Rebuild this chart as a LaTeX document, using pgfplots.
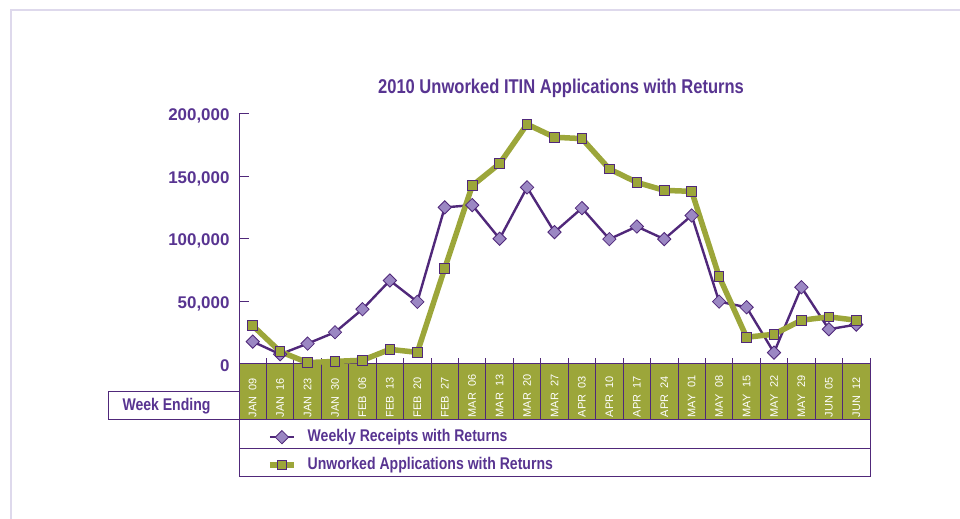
\documentclass[border=0pt]{standalone}
\usepackage{fontspec}
\setmainfont{Liberation Sans}
\newfontfamily\cond[FakeStretch=0.83]{Liberation Sans}
\usepackage{pgfplots}
\pgfplotsset{compat=1.18}

\definecolor{ipurple}{RGB}{80,40,122}
\definecolor{tpurple}{RGB}{88,52,145}
\definecolor{lav}{RGB}{155,135,195}
\definecolor{olivegreen}{RGB}{156,166,58}
\definecolor{framelav}{RGB}{222,217,236}

\newcommand{\wk}[2]{#1\hspace{6.5bp}#2}

\begin{document}
\begin{tikzpicture}[x=1bp,y=1bp]
\path[use as bounding box] (0,0) rectangle (960,519);
\draw[framelav, line width=1.5bp] (11,0) -- (11,509) -- (960,509);

% week band and boxes below the axis
\fill[olivegreen] (239,99) rectangle (870,155);
\foreach \i in {0,...,23} {
  \draw[ipurple, line width=0.9bp] ({239+\i*631/23},99) -- ({239+\i*631/23},161);
}
\draw[ipurple, line width=1bp] (108,99) rectangle (239,127);
\draw[ipurple, line width=1bp] (239,42) rectangle (870,99);
\draw[ipurple, line width=1bp] (239,70) -- (870,70);
\node[text=tpurple, font=\cond\bfseries\fontsize{17}{17}\selectfont] at (166.5,113) {Week Ending};

\node[text=tpurple, anchor=base, font=\cond\bfseries\fontsize{20}{20}\selectfont] at (561,425.7)
  {2010 Unworked ITIN Applications with Returns};

\begin{axis}[
    at={(239bp,155bp)}, anchor=south west,
    scale only axis, width=631bp, height=250bp,
    xmin=-0.5, xmax=22.5, ymin=0, ymax=200000,
    clip=false,
    axis lines*=left,
    axis line style={ipurple, line width=1bp},
    tick align=inside, major tick length=10bp,
    ytick={0,50000,100000,150000,200000},
    ytick style={ipurple, line width=1bp},
    scaled y ticks=false,
    /pgf/number format/.cd, fixed, 1000 sep={,}, assume math mode=true,
    /pgfplots/.cd,
    yticklabel style={text=tpurple, font=\bfseries\fontsize{17}{17}\selectfont, xshift=-6bp, yshift=-2bp},
    xtick={0,...,22},
    xtick style={draw=none},
    xticklabels={\wk{JAN}{09},\wk{JAN}{16},\wk{JAN}{23},\wk{JAN}{30},\wk{FEB}{06},\wk{FEB}{13},
      \wk{FEB}{20},\wk{FEB}{27},\wk{MAR}{06},\wk{MAR}{13},\wk{MAR}{20},\wk{MAR}{27},\wk{APR}{03},
      \wk{APR}{10},\wk{APR}{17},\wk{APR}{24},\wk{MAY}{01},\wk{MAY}{08},\wk{MAY}{15},\wk{MAY}{22},
      \wk{MAY}{29},\wk{JUN}{05},\wk{JUN}{12}},
    xticklabel style={rotate=90, anchor=west, inner sep=0pt, text=white,
      font=\fontsize{11}{11}\selectfont},
    xticklabel shift=53.5bp,
    legend style={at={(0,0)}, anchor=north west, xshift=25bp, yshift=-63bp,
      draw=none, fill=none, row sep=12bp, column sep=11bp,
      font=\cond\bfseries\fontsize{17}{17}\selectfont, text=tpurple,
      nodes={inner sep=0pt, text height=12.5bp, text depth=3.5bp}},
    legend cell align=left,
    legend image code/.code={
      \draw[mark repeat=2, mark phase=2, #1] plot coordinates {(0bp,0bp) (12bp,0bp) (24bp,0bp)};
    },
]
% weekly receipts with returns
\addplot[ipurple, line width=2.4bp, mark=square*, mark size=4.7bp,
  mark options={rotate=45, fill=lav, draw=ipurple, line width=0.8bp}] coordinates {
  (0,17900)(1,7800)(2,16300)(3,25400)(4,43800)(5,66800)(6,49700)(7,125300)
  (8,127100)(9,100200)(10,141300)(11,105500)(12,124700)(13,99900)(14,110000)
  (15,99900)(16,118800)(17,49900)(18,45400)(19,9100)(20,61400)(21,27800)(22,31500)
};
\addlegendentry{Weekly Receipts with Returns}
% unworked applications with returns
\addplot[olivegreen, line width=5.5bp, mark=square*, mark size=4.8bp,
  mark options={fill=olivegreen, draw=ipurple, line width=1bp}] coordinates {
  (0,30700)(1,9900)(2,1100)(3,2100)(4,3000)(5,11700)(6,9300)(7,76600)
  (8,142600)(9,160300)(10,191800)(11,181400)(12,180300)(13,156000)(14,145300)
  (15,138900)(16,138100)(17,70000)(18,21400)(19,23800)(20,35000)(21,37700)(22,35000)
};
\addlegendentry{Unworked Applications with Returns}
\end{axis}
\end{tikzpicture}
\end{document}
